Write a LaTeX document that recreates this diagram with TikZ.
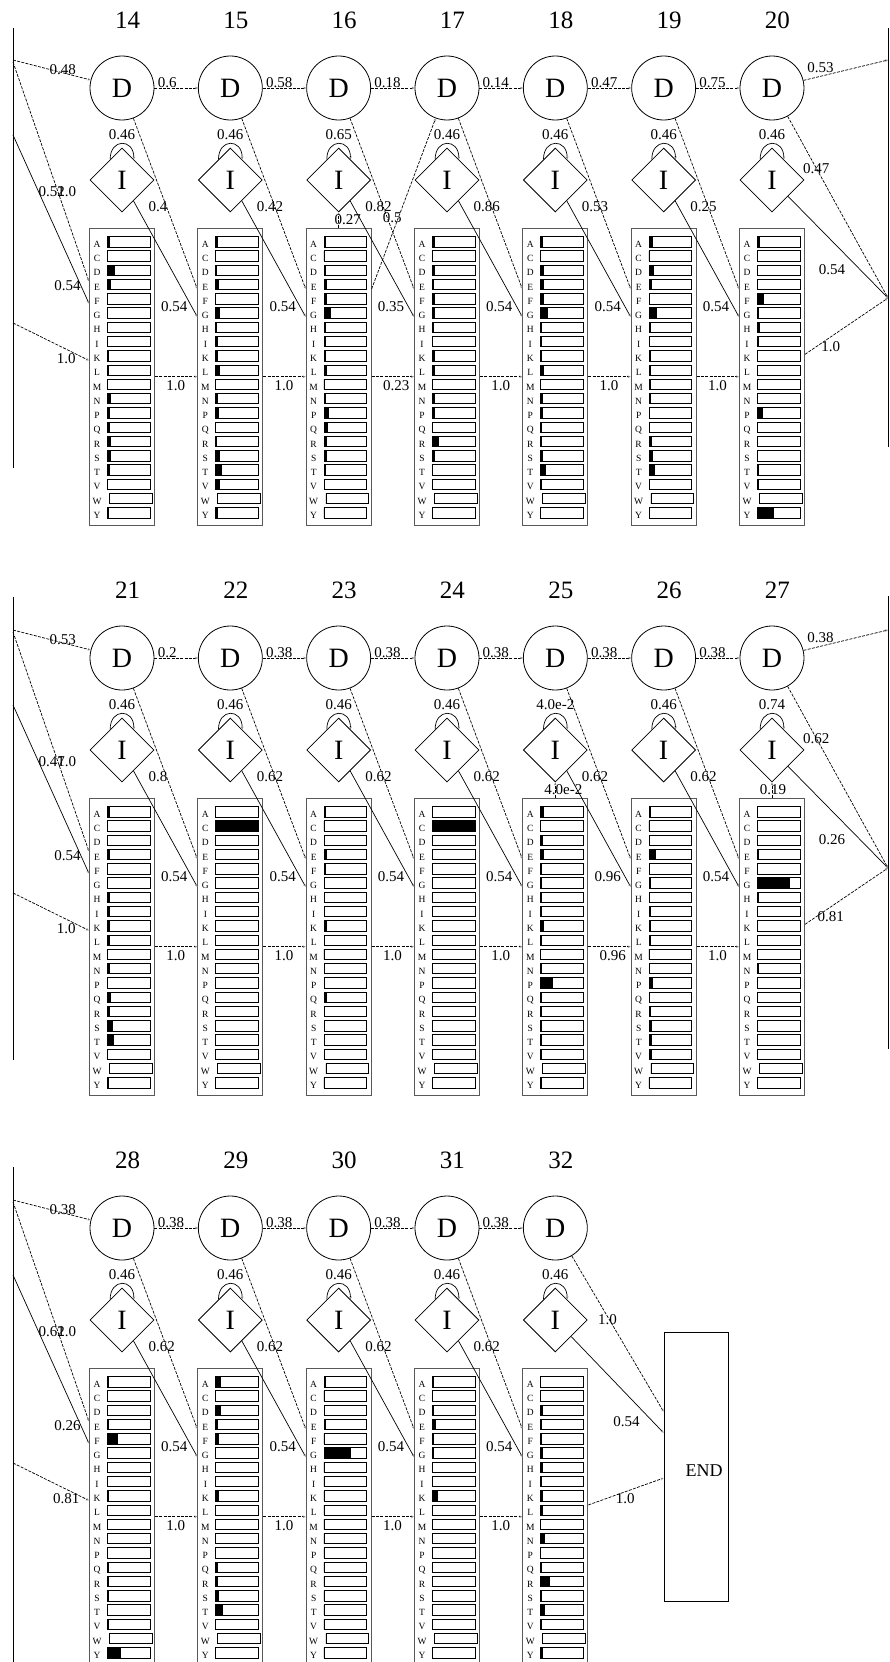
\documentclass[tikz,border=0pt]{standalone}
\usepackage{fontspec}
\setmainfont{Liberation Serif}
\usetikzlibrary{positioning,arrows.meta,shapes.geometric}
\tikzset{
  hmm/.style={line width=0.7pt,>={Stealth[length=3pt,width=2.6pt,color=black!45]}},
  dstate/.style={circle,draw,line width=0.8pt,minimum size=64pt,inner sep=0pt,
    font=\fontsize{28}{28}\selectfont},
  istate/.style={diamond,draw,line width=0.8pt,minimum size=64pt,inner sep=0pt,
    font=\fontsize{28}{28}\selectfont},
  emit/.style={rectangle,draw=black!65,line width=1pt,minimum width=65pt,
    minimum height=297pt,inner sep=0pt},
  endbox/.style={rectangle,draw,line width=0.8pt,minimum width=64pt,
    minimum height=269pt,inner sep=0pt},
  colnum/.style={font=\fontsize{25}{25}\selectfont,anchor=base,inner sep=0pt},
  prob/.style={font=\fontsize{15}{15}\selectfont,inner sep=0pt},
  aa/.style={font=\fontsize{9.5}{9.5}\selectfont,inner sep=0pt,anchor=base},
  bar/.style={draw,line width=0.8pt},
  silent/.style={->,dash pattern=on 3pt off 1.3pt},
  trans/.style={->},
  border/.style={line width=0.9pt},
}
\newcommand\aaname[1]{\ifcase#1 A\or C\or D\or E\or F\or G\or H\or I\or K\or L\or M\or N\or P\or Q\or R\or S\or T\or V\or W\or Y\fi}
\newcommand\setbars[2]{\expandafter\def\csname bars#1\endcsname{#2}}
% black part of each emission bar, in the order A C D E F G H I K L M N P Q R S T V W Y
\setbars{14}{3,0,8,4,0,0,0,0,1.5,1.5,0,4,3,3,4,3.5,2.5,1,0,1.5}
\setbars{15}{2,0,1.5,3,0,4.5,1,2,2.5,4.5,0,2.5,3.5,0,1,4,6.5,4,0,2}
\setbars{16}{2,0,2,3,3,7,2,2,2,3,0,2,5,4,3,3,2,1,0,0}
\setbars{17}{3,0,3,2,3,3,2,1,3,3,0,3,3,1,7,3,1,1,0,0}
\setbars{18}{2,0,3,3,3,7,1,1,1,3,0,2,2,1,1,2,5,1,0,0}
\setbars{19}{4,0,5,3.5,0.5,8,2,0.5,2.5,2,2,2,1,0.5,3,4,6.5,1,0,0.5}
\setbars{20}{3,0,0,0,7,1.5,3,2,1,0,0.5,0,6,0,0,0,1.5,1.5,0,17}
\setbars{21}{2.5,0,0,2.5,1,0,2.5,2.5,3,2.5,0,2.5,0,3.5,2.5,6,6.5,1,0,1.5}
\setbars{22}{0,42.7,0,0,0,0,0,0,0,0,0,0,0,0,0,0,0,0,0,0}
\setbars{23}{2,0,1,3,2,1,1,1,3,1,0,1,1,3,1,1,1,1,0,0}
\setbars{24}{0,42.7,0,0,0,0,0,0,0,0,0,0,0,0,0,0,0,0,0,0}
\setbars{25}{3,0,2,3,1,1,1,1,3,1,0,1,12,1,1,1,1,1,0,1}
\setbars{26}{2,0,1,7,1,2,1,2,2,2,0,1,4,1,2,3,3,3,0,0}
\setbars{27}{0,0,0,2,0,33,2,0,0,0,0,2,0,0,0,0,0,0,0,0}
\setbars{28}{2,0,0,2,11,0,0,0,2,0,0,0,0,2,2,2,0,2,0,14}
\setbars{29}{5,0,5,2,3,0,0,0,3,0,0,0,0,2,2,3,7,0,0,0}
\setbars{30}{2,0,1,2,0,27,0,0,0,0,0,0,0,0,0,0,0,0,0,0}
\setbars{31}{2,1,2,4,2,2,1,1,6,1,0,1,0,1,1,1,1,1,0,0}
\setbars{32}{0,0,2,1,1,2,2,0.5,2,2,0,4,0,1,9,0.5,4,0.5,0,2.5}

\begin{document}
\begin{tikzpicture}[hmm,x=1pt,y=1pt]
  \useasboundingbox (0,0) rectangle (889,-1662);

  % one column per model position: delete, insert, match
  \foreach \n/\k/\r in {14/0/0,15/1/0,16/2/0,17/3/0,18/4/0,19/5/0,20/6/0,
                        21/0/1,22/1/1,23/2/1,24/3/1,25/4/1,26/5/1,27/6/1,
                        28/0/2,29/1/2,30/2/2,31/3/2,32/4/2}{
    \pgfmathsetmacro\cx{122+108.33*\k}
    \pgfmathsetmacro\cy{-88-570*\r}
    \node[colnum] (N\n) at (\cx+5.5,\cy+59.7) {\n};
    \node[dstate] (D\n) at (\cx,\cy) {D};
    \node[istate] (I\n) at (\cx,\cy-92) {I};
    \node[emit] (M\n) at (\cx,\cy-288.7) {};
    \expandafter\let\expandafter\barlist\csname bars\n\endcsname
    \foreach \w [count=\i from 0] in \barlist{
      \pgfmathsetmacro\by{\cy-153.7-14.27*\i}
      \pgfmathsetmacro\bx{\cx-14.7+2*(\i==18)}
      \fill (\bx,\by-5.2) rectangle ++(\w,10.4);
      \draw[bar] (\bx,\by-5.2) rectangle ++(42.7,10.4);
      \node[aa] (A\n-\i) at (\cx-25,\by-5.6) {\aaname{\i}};
    }
  }

  % transitions inside a row
  \foreach \a/\b/\dd/\dm/\im/\mm in {
      14/15/0.6/0.4/0.54/1.0, 15/16/0.58/0.42/0.54/1.0, 16/17/0.18/0.82/0.35/0.23,
      17/18/0.14/0.86/0.54/1.0, 18/19/0.47/0.53/0.54/1.0, 19/20/0.75/0.25/0.54/1.0,
      21/22/0.2/0.8/0.54/1.0, 22/23/0.38/0.62/0.54/1.0, 23/24/0.38/0.62/0.54/1.0,
      24/25/0.38/0.62/0.54/1.0, 25/26/0.38/0.62/0.96/0.96, 26/27/0.38/0.62/0.54/1.0,
      28/29/0.38/0.62/0.54/1.0, 29/30/0.38/0.62/0.54/1.0, 30/31/0.38/0.62/0.54/1.0,
      31/32/0.38/0.62/0.54/1.0}{
    \draw[silent] (D\a) -- node[prob,pos=0,anchor=base west,xshift=3pt,yshift=1pt]{\dd} (D\b);
    \draw[silent] (D\a) -- node[prob,pos=.515,anchor=west,xshift=-18pt]{\dm} (M\b);
    \draw[trans] (I\a) -- node[prob,pos=.914,anchor=east,xshift=-4pt]{\im} (M\b);
    \draw[silent] (M\a) -- node[prob,pos=0,anchor=north west,xshift=11pt,yshift=-3pt]{\mm} (M\b);
  }

  % insert self loops
  \foreach \n/\s in {14/0.46,15/0.46,16/0.65,17/0.46,18/0.46,19/0.46,20/0.46,
                     21/0.46,22/0.46,23/0.46,24/0.46,25/4.0e-2,26/0.46,27/0.74,
                     28/0.46,29/0.46,30/0.46,31/0.46,32/0.46}{
    \draw[trans] (I\n.120) to[out=90,in=90,looseness=2.3]
      node[prob,above=3pt]{\s} (I\n.60);
  }

  % match to insert and match to delete
  \draw[silent] (M16) -- node[prob,xshift=9pt]{0.27} (I16);
  \draw[silent] (M16) -- node[prob,pos=.42,anchor=west,xshift=-16pt]{0.5} (D17);
  \draw[silent] (M25) -- node[prob,xshift=8pt]{4.0e-2} (I25);
  \draw[silent] (M27) -- node[prob,xshift=1pt]{0.19} (I27);

  % row breaks
  \draw[border] (13,-28) -- (13,-468);
  \draw[border] (888,-28) -- (888,-447);
  \draw[border] (13,-597) -- (13,-1060);
  \draw[border] (888,-596) -- (888,-1049);
  \draw[border] (13,-1167) -- (13,-1662);

  \foreach \r/\f/\da/\dm/\xa/\im/\mm in {0/14/0.48/0.52/1.0/0.54/1.0,
      1/21/0.53/0.47/1.0/0.54/1.0, 2/28/0.38/0.62/1.0/0.26/0.81}{
    \pgfmathsetmacro\cy{-88-570*\r}
    \coordinate (La\r) at (13,\cy+28);
    \coordinate (Lb\r) at (13,\cy+26);
    \coordinate (Lc\r) at (13,\cy-47);
    \coordinate (Ld\r) at (13,\cy-235);
    \draw[silent] (La\r) -- node[prob,pos=.64,yshift=3pt]{\da} (D\f);
    \draw[silent] (Lb\r) -- node[prob,pos=.59,xshift=-6pt]{\dm}
      node[prob,pos=.59,xshift=9pt]{\xa} (M\f);
    \draw[trans] (Lc\r) -- node[prob,pos=.896,anchor=east]{\im} (M\f);
    \draw[silent] (Ld\r) -- node[prob,pos=.7,below=3.5pt]{\mm} (M\f);
  }

  \foreach \r/\l/\dd/\dm/\im/\mm in {0/20/0.53/0.47/0.54/1.0, 1/27/0.38/0.62/0.26/0.81}{
    \pgfmathsetmacro\cy{-88-570*\r}
    \coordinate (Ra\r) at (888,\cy+28);
    \coordinate (Rb\r) at (888,\cy-210);
    \draw[silent] (D\l) -- node[prob,pos=.2,above=3pt]{\dd} (Ra\r);
    \draw[silent] (D\l) -- node[prob,pos=.285]{\dm} (Rb\r);
    \draw[trans] (I\l) -- node[prob,pos=.725,anchor=east,xshift=-15pt]{\im} (Rb\r);
    \draw[silent] (M\l) -- node[prob,pos=.31,below=4pt]{\mm} (Rb\r);
  }

  % end state
  \node[endbox] (END) at (696,-1466.5) {};
  \node[font=\fontsize{18}{18}\selectfont] (ENDtxt) at (704,-1471) {END};
  \draw[silent] (D32) -- node[prob,pos=.41,xshift=-2pt]{1.0} (END);
  \draw[trans] (I32) -- node[prob,pos=.886,anchor=east,xshift=-13pt]{0.54} (END);
  \draw[silent] (M32) -- node[prob,pos=.49,below=1.5pt]{1.0} (END);
\end{tikzpicture}
\end{document}
